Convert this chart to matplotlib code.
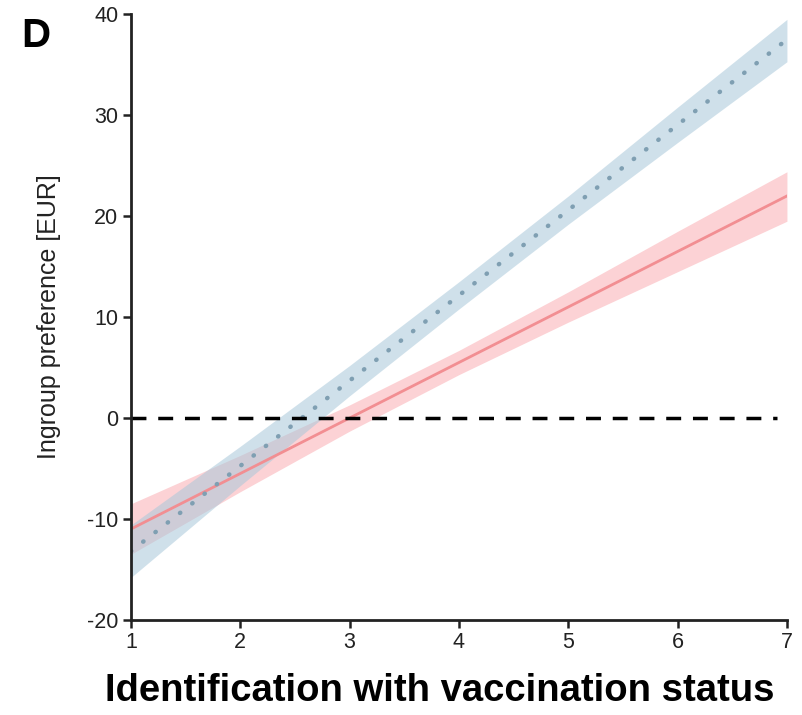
import numpy as np
import matplotlib.pyplot as plt

plt.rcParams['font.family'] = ['Liberation Sans', 'DejaVu Sans']
plt.rcParams['axes.unicode_minus'] = False

# 推定値
x_vals = [1, 2, 3, 4, 5, 6, 7]
blue_fit = [-13.2, -4.75, 3.7, 12.15, 20.6, 29.05, 37.5]
blue_lo = [-15.8, -6.7, 2.2, 10.8, 19.2, 27.3, 35.3]
blue_hi = [-10.6, -2.8, 5.2, 13.5, 22.0, 30.8, 39.5]
pink_fit = [-11.0, -5.5, 0.0, 5.5, 11.0, 16.5, 22.0]
pink_lo = [-13.5, -7.3, -1.3, 4.3, 9.5, 14.5, 19.5]
pink_hi = [-8.5, -3.7, 1.3, 6.7, 12.5, 18.5, 24.4]

fig = plt.figure(figsize=(8.03, 7.15), dpi=100)
ax = fig.add_axes([0.163, 0.133, 0.817, 0.847])

ax.fill_between(x_vals, pink_lo, pink_hi, color='#fbb4b9', alpha=0.6, lw=0)
ax.fill_between(x_vals, blue_lo, blue_hi, color='#a9c8da', alpha=0.55, lw=0)
ax.plot(x_vals, pink_fit, color='#f28e92', lw=2)
ax.plot(x_vals, blue_fit, color='#7f9fb2', lw=3.2, linestyle=(0, (0.1, 3.4)),
        dash_capstyle='round')
ax.axhline(0, xmax=0.985, color='black', lw=2.5, linestyle=(0, (4.3, 3.4)))

ax.set_xlim(1, 7)
ax.set_ylim(-20, 40)
ax.set_xticks(range(1, 8))
ax.set_yticks(range(-20, 41, 10))
ax.tick_params(labelsize=15.5, width=1.8, length=6, pad=3, colors='#222222')
for side in ['top', 'right']:
    ax.spines[side].set_visible(False)
for side in ['left', 'bottom']:
    ax.spines[side].set_linewidth(2)
    ax.spines[side].set_color('#222222')

ax.set_ylabel('Ingroup preference [EUR]', fontsize=18, color='#222222')
ax.yaxis.set_label_coords(-0.106, 0.5)
ax.set_xlabel('Identification with vaccination status', fontsize=27.5,
              fontweight='bold', labelpad=14)
ax.xaxis.label.set_x(0.471)
fig.text(0.026, 0.934, 'D', fontsize=29, fontweight='bold')

plt.savefig('out.png', dpi=100)
